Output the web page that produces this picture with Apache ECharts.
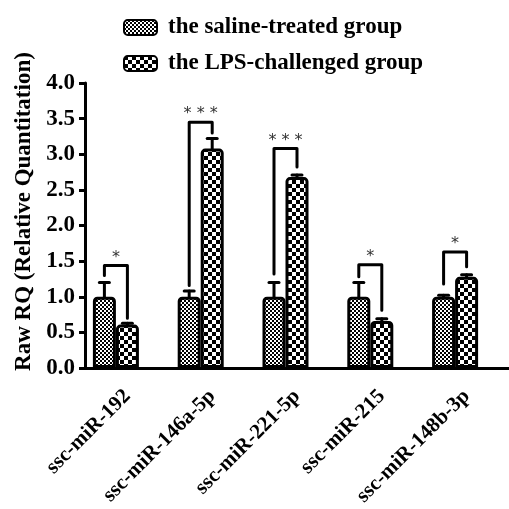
<!DOCTYPE html>
<html>
<head>
<meta charset="utf-8">
<script src="https://cdn.jsdelivr.net/npm/echarts@6/dist/echarts.min.js"></script>
<style>html,body{margin:0;padding:0;background:#fff}#c{width:509px;height:509px}</style>
</head>
<body>
<div id="c"></div>
<script>
// ---- data ----
const categories = ['ssc-miR-192', 'ssc-miR-146a-5p', 'ssc-miR-221-5p', 'ssc-miR-215', 'ssc-miR-148b-3p'];
const salineValues = [1.0, 1.0, 1.0, 1.0, 1.0];
const salineErrors = [0.20, 0.08, 0.20, 0.20, 0.02];
const lpsValues = [0.61, 3.08, 2.68, 0.66, 1.28];
const lpsErrors = [0.02, 0.14, 0.03, 0.03, 0.03];
const seriesNames = ['the saline-treated group', 'the LPS-challenged group'];
const bracketTop = [1.44, 3.45, 3.08, 1.45, 1.63];
const bracketLeftEnd = [1.30, 1.16, 1.32, 1.28, 1.18];
const bracketRightEnd = [0.70, 3.30, 2.82, 0.81, 1.42];
const significance = ['*', '***', '***', '*', '*'];
const yTicks = [0, 0.5, 1.0, 1.5, 2.0, 2.5, 3.0, 3.5, 4.0];

// ---- styles ----
const FONT = "'Liberation Serif', 'Times New Roman', serif";
const BW = 23;          // bar width (px)
const LW = 3;           // line width

function makePattern(s) {
  const c = document.createElement('canvas');
  c.width = c.height = s * 2;
  const ctx = c.getContext('2d');
  ctx.fillStyle = '#fff'; ctx.fillRect(0, 0, 2 * s, 2 * s);
  ctx.fillStyle = '#000'; ctx.fillRect(0, 0, s, s); ctx.fillRect(s, s, s, s);
  return c;
}
const finePattern = { image: makePattern(2), repeat: 'repeat' };
const coarsePattern = { image: makePattern(4), repeat: 'repeat' };

const errData = [];
categories.forEach((c, i) => {
  errData.push([i, salineValues[i], salineErrors[i], 0]);
  errData.push([i, lpsValues[i], lpsErrors[i], 1]);
});
const bracketData = categories.map((c, i) => [i, bracketTop[i], bracketLeftEnd[i], bracketRightEnd[i], significance[i]]);

function slotOffset(k) { return k === 0 ? -BW : 0; }

const chart = echarts.init(document.getElementById('c'), null, { renderer: 'canvas' });
chart.setOption({
  animation: false,
  backgroundColor: '#fff',
  grid: { left: 85, top: 83, height: 287, width: 433, containLabel: false },
  legend: {
    data: seriesNames,
    orient: 'vertical',
    left: 118, top: 11,
    itemWidth: 33, itemHeight: 15, itemGap: 13,
    icon: 'roundRect',
    textStyle: { fontFamily: FONT, fontWeight: 'bold', fontSize: 23, color: '#000', padding: [0, 0, 0, 6] }
  },
  xAxis: {
    type: 'category',
    data: categories,
    axisLine: { lineStyle: { color: '#000', width: LW } },
    axisTick: { alignWithLabel: true, length: 8, lineStyle: { color: '#000', width: LW } },
    axisLabel: { rotate: 45, margin: 25, fontFamily: FONT, fontWeight: 'bold', fontSize: 21, color: '#000', interval: 0 },
    splitLine: { show: false }
  },
  yAxis: {
    type: 'value',
    min: yTicks[0], max: yTicks[yTicks.length - 1], interval: 0.5,
    name: 'Raw RQ (Relative Quantitation)',
    nameLocation: 'middle', nameRotate: 90, nameGap: 46,
    nameTextStyle: { fontFamily: FONT, fontWeight: 'bold', fontSize: 23, color: '#000', padding: [0, 0, 0, 28] },
    axisLine: { show: true, lineStyle: { color: '#000', width: LW } },
    axisTick: { show: true, length: 6, lineStyle: { color: '#000', width: LW } },
    axisLabel: { margin: 10, fontFamily: FONT, fontWeight: 'bold', fontSize: 23, color: '#000', formatter: v => v.toFixed(1) },
    splitLine: { show: false }
  },
  series: [
    {
      name: seriesNames[0], type: 'bar', data: salineValues, barWidth: BW, barGap: '0%',
      itemStyle: { color: finePattern, borderColor: '#000', borderWidth: LW, borderRadius: [3, 3, 0, 0] }
    },
    {
      name: seriesNames[1], type: 'bar', data: lpsValues, barWidth: BW, barGap: '0%',
      itemStyle: { color: coarsePattern, borderColor: '#000', borderWidth: LW, borderRadius: [3, 3, 0, 0] }
    },
    { name: 'spacer', type: 'bar', data: categories.map(() => '-'), barWidth: BW, barGap: '0%', silent: true },
    {
      type: 'custom', data: errData, z: 5,
      renderItem: function (params, api) {
        const cat = api.value(0), v = api.value(1), e = api.value(2), k = api.value(3);
        const base = api.coord([cat, v]);
        const top = api.coord([cat, v + e]);
        const x = base[0] + slotOffset(k);
        const st = { stroke: '#000', lineWidth: LW, lineCap: 'round' };
        return {
          type: 'group', children: [
            { type: 'line', shape: { x1: x, y1: base[1], x2: x, y2: top[1] }, style: st },
            { type: 'line', shape: { x1: x - 5, y1: top[1], x2: x + 5, y2: top[1] }, style: st }
          ]
        };
      }
    },
    {
      type: 'custom', data: bracketData, z: 6,
      renderItem: function (params, api) {
        const cat = api.value(0);
        const yTop = api.coord([cat, api.value(1)])[1];
        const yL = api.coord([cat, api.value(2)])[1];
        const yR = api.coord([cat, api.value(3)])[1];
        const c = api.coord([cat, 0])[0];
        const xL = c + slotOffset(0), xR = c + slotOffset(1);
        const label = bracketData[params.dataIndex][4];
        return {
          type: 'group', children: [
            { type: 'polyline', shape: { points: [[xL, yL], [xL, yTop], [xR, yTop], [xR, yR]] },
              style: { stroke: '#000', lineWidth: LW, fill: null, lineJoin: 'round', lineCap: 'round' } },
            { type: 'text', style: { text: label.split('').join(' '), x: (xL + xR) / 2, y: yTop,
              align: 'center', verticalAlign: 'bottom', fontFamily: "'DejaVu Sans', sans-serif", fontSize: 16, fill: '#333' } }
          ]
        };
      }
    }
  ]
});
</script>
</body>
</html>
